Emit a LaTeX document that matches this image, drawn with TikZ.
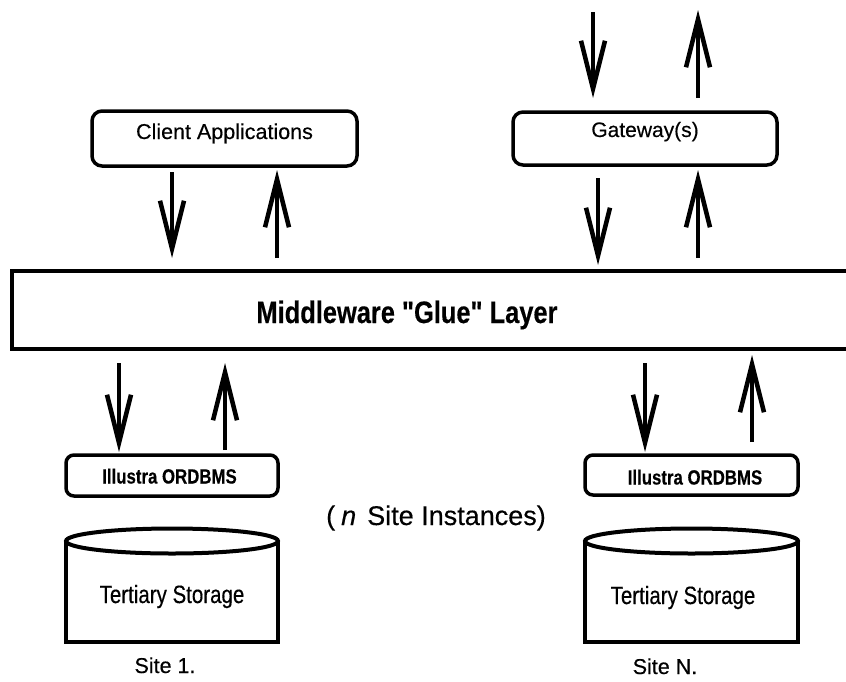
\documentclass[tikz,border=0pt]{standalone}
\usepackage{fontspec}
\setmainfont[FakeBold=0.35]{Liberation Sans}
\newfontfamily\narrowfont[FakeStretch=0.82,FakeBold=0.35]{Liberation Sans}
\usetikzlibrary{arrows.meta}
\tikzset{
  box/.style={draw, line width=3.5pt, rounded corners=10pt, inner sep=0pt, outer sep=0pt},
  layer/.style={draw, line width=4.5pt, inner sep=0pt, outer sep=0pt},
  lbl/.style={anchor=base, inner sep=0pt, outer sep=0pt},
  arr/.style={line width=4pt, -{Straight Barb[length=48pt,width=24pt,line width=4.5pt]}},
  cyl/.style={line width=4pt},
}
\begin{document}
\begin{tikzpicture}[x=1pt,y=-1pt]
\useasboundingbox (0,0) rectangle (846,681);
\clip (0,0) rectangle (846,681);

% boxes
\node[box, minimum width=265pt, minimum height=55pt] (client) at (224.5,138.5) {};
\node[box, minimum width=264pt, minimum height=53pt] (gw) at (645,138.5) {};
\node[layer, minimum width=888pt, minimum height=78pt] (mw) at (456,310) {};
\node[box, rounded corners=8pt, minimum width=212pt, minimum height=41pt] (il1) at (172,475.5) {};
\node[box, rounded corners=8pt, minimum width=213pt, minimum height=40pt] (il2) at (691.5,475) {};

% labels
\node[lbl, font=\fontsize{21.5}{24}\selectfont] (tclient) at (224.5,139) {Client Applications};
\node[lbl, font=\fontsize{21}{24}\selectfont] (tgw) at (645,137) {Gateway(s)};
\node[lbl, font=\narrowfont\bfseries\fontsize{31}{34}\selectfont] (tmw) at (407,323) {Middleware "Glue" Layer};
\node[lbl, font=\narrowfont\bfseries\fontsize{20.5}{23}\selectfont] (til1) at (169.5,483.5) {Illustra ORDBMS};
\node[lbl, font=\narrowfont\bfseries\fontsize{20.5}{23}\selectfont] (til2) at (695,484.5) {Illustra ORDBMS};
\node[lbl, font=\fontsize{27}{30}\selectfont] (tinst) at (436,525) {(\hspace{6pt}\textit{n}\hspace{11pt}Site Instances)};

% cylinders
\draw[cyl] (66,541) -- (66,642) -- (278,642) -- (278,541);
\draw[cyl] (172,541) ellipse [x radius=106pt, y radius=12.5pt];
\draw[cyl] (585,541) -- (585,642) -- (798,642) -- (798,541);
\draw[cyl] (691.5,541) ellipse [x radius=106.5pt, y radius=12.5pt];
\node[lbl, font=\narrowfont\fontsize{25}{28}\selectfont] (tts1) at (172,603) {Tertiary Storage};
\node[lbl, font=\narrowfont\fontsize{25}{28}\selectfont] (tts2) at (683,604) {Tertiary Storage};
\node[lbl, font=\fontsize{21.5}{24}\selectfont] (site1) at (165,673) {Site 1.};
\node[lbl, font=\fontsize{21.5}{24}\selectfont] (siteN) at (665,674) {Site N.};

% arrow x positions and free ends
\coordinate (x1) at (172,0);
\coordinate (x2) at (277,0);
\coordinate (x3) at (598,0);
\coordinate (x4) at (698,0);
\coordinate (x5) at (119,0);
\coordinate (x6) at (225,0);
\coordinate (x7) at (645,0);
\coordinate (x8) at (752,0);
\coordinate (gin) at (593,12);
\coordinate (gout) at (698,10);
\coordinate (x9) at (593,0);

% arrows
\draw[arr, shorten <=6pt, shorten >=13pt] (client.south -| x1) -- (mw.north -| x1);
\draw[arr, shorten <=13pt, shorten >=4pt] (mw.north -| x2) -- (client.south -| x2);
\draw[arr, shorten >=14pt] (gin) -- (gw.north -| x9);
\draw[arr, shorten <=14pt] (gw.north -| x4) -- (gout);
\draw[arr, shorten <=13pt, shorten >=6pt] (gw.south -| x3) -- (mw.north -| x3);
\draw[arr, shorten <=13pt, shorten >=5pt] (mw.north -| x4) -- (gw.south -| x4);
\draw[arr, shorten <=14pt, shorten >=3pt] (mw.south -| x5) -- (il1.north -| x5);
\draw[arr, shorten <=5pt, shorten >=14pt] (il1.north -| x6) -- (mw.south -| x6);
\draw[arr, shorten <=14pt, shorten >=3pt] (mw.south -| x7) -- (il2.north -| x7);
\draw[arr, shorten <=13pt, shorten >=6pt] (il2.north -| x8) -- (mw.south -| x8);
\end{tikzpicture}
\end{document}
